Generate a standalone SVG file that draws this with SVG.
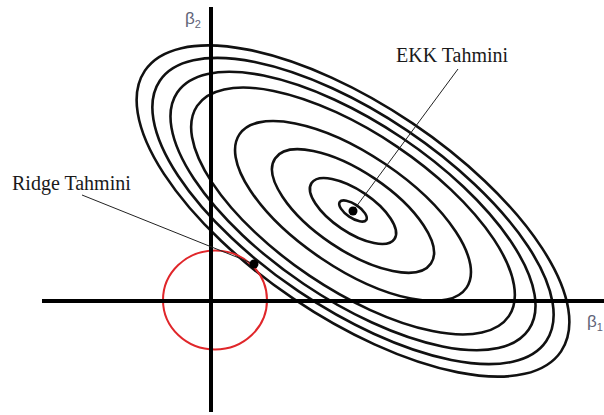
<svg xmlns="http://www.w3.org/2000/svg" width="604" height="415" viewBox="0 0 604 415">
<style>
.ell{fill:none;stroke:#111;stroke-width:2.6}
.axis{stroke:#000;stroke-width:4}
.lead{stroke:#222;stroke-width:1}
.lbl{font-family:"Liberation Serif",serif;font-size:20px;fill:#1a1a1a}
.beta{font-family:"Liberation Sans",sans-serif;font-size:17px;fill:#5f6478}
.sub{font-family:"Liberation Sans",sans-serif;font-size:11px;fill:#5f6478}
</style>
<rect width="604" height="415" fill="#fff"/>
<g id="contours" transform="translate(353 211) rotate(34)">
<ellipse class="ell" rx="16" ry="6.8"/>
<ellipse class="ell" rx="50" ry="21"/>
<ellipse class="ell" rx="94" ry="39"/>
<ellipse class="ell" rx="137" ry="57"/>
<ellipse class="ell" rx="188" ry="78"/>
<ellipse class="ell" rx="212" ry="88"/>
<ellipse class="ell" rx="233" ry="97"/>
<ellipse class="ell" rx="251" ry="106"/>
</g>
<g id="constraint">
<ellipse cx="215" cy="300" rx="52" ry="49.5" fill="none" stroke="#e0262a" stroke-width="2"/>
</g>
<g id="axes">
<line class="axis" x1="42" y1="301" x2="604" y2="301"/>
<line class="axis" x1="211" y1="7" x2="211" y2="412"/>
</g>
<g id="connectors">
<line class="lead" x1="82" y1="195" x2="254" y2="264"/>
<line class="lead" x1="458" y1="69" x2="353" y2="211"/>
</g>
<g id="ridge">
<circle cx="254" cy="264" r="4.5" fill="#000"/>
<text class="lbl" x="12" y="190">Ridge Tahmini</text>
</g>
<g id="ekk">
<circle cx="353" cy="211" r="4.5" fill="#000"/>
<text class="lbl" x="396" y="62">EKK Tahmini</text>
</g>
<g id="beta2">
<text class="beta" x="185" y="24">β<tspan class="sub" dy="4">2</tspan></text>
</g>
<g id="beta1">
<text class="beta" x="587" y="327">β<tspan class="sub" dy="4">1</tspan></text>
</g>
</svg>
